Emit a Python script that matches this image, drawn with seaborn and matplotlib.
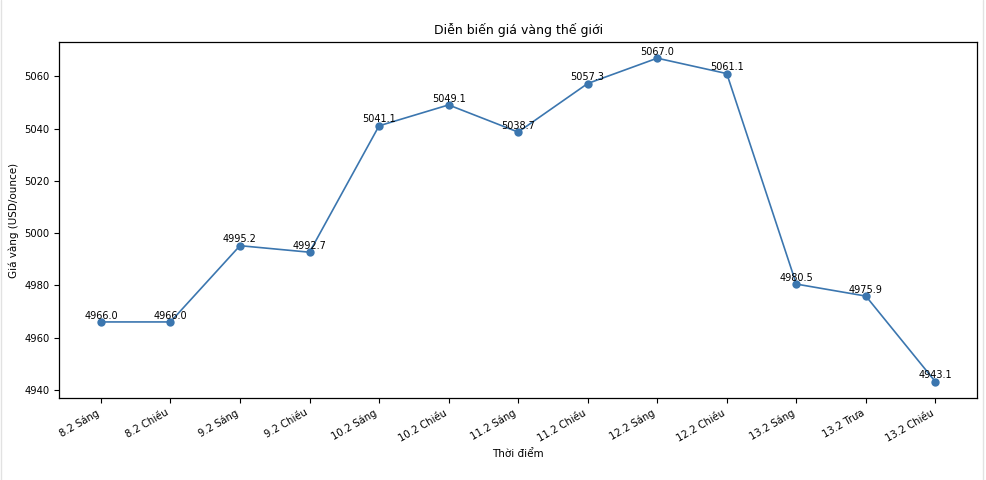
import matplotlib
matplotlib.use("Agg")
import matplotlib.pyplot as plt
import seaborn as sns
import pandas as pd
from matplotlib.lines import Line2D

times = ["8.2 Sáng", "8.2 Chiều", "9.2 Sáng", "9.2 Chiều", "10.2 Sáng", "10.2 Chiều",
         "11.2 Sáng", "11.2 Chiều", "12.2 Sáng", "12.2 Chiều", "13.2 Sáng", "13.2 Trưa", "13.2 Chiều"]
prices = [4966.0, 4966.0, 4995.2, 4992.7, 5041.1, 5049.1, 5038.7, 5057.3, 5067.0, 5061.1,
          4980.5, 4975.9, 4943.1]

sns.set_style("ticks")
plt.rcParams['font.family'] = ['DejaVu Sans']
plt.rcParams['text.color'] = 'black'
plt.rcParams['axes.labelcolor'] = 'black'
plt.rcParams['xtick.color'] = 'black'
plt.rcParams['ytick.color'] = 'black'
plt.rcParams['axes.edgecolor'] = 'black'

df = pd.DataFrame({"Thời điểm": times, "Giá": prices})
df["pos"] = range(len(times))

fig = plt.figure(figsize=(9.86, 4.8), dpi=100)
ax = fig.add_axes([0.06, 0.171, 0.931, 0.7415])
color = "#3b76af"
sns.lineplot(data=df, x="pos", y="Giá", marker="o", color=color, ax=ax,
             markersize=6, markeredgewidth=0, linewidth=1.2, sort=False)
for i, v in enumerate(prices):
    ax.annotate(f"{v:.1f}", (i, v), xytext=(0, 1), textcoords="offset points",
                ha="center", va="bottom", fontsize=7)
ax.set_xticks(range(len(times)))
ax.set_xticklabels(times, rotation=30, ha="right", fontsize=7.2)
ax.tick_params(axis="y", labelsize=7.2)
ax.tick_params(width=0.8, length=3.5)
ax.set_xlim(-0.6, len(times) - 1 + 0.6)
ax.set_title("Diễn biến giá vàng thế giới", fontsize=9)
ax.set_xlabel("Thời điểm", fontsize=7.5)
ax.set_ylabel("Giá vàng (USD/ounce)", fontsize=7.5)
for s in ax.spines.values():
    s.set_visible(True)
    s.set_linewidth(0.9)

fig.add_artist(Line2D([0.0015, 0.0015], [0, 1], transform=fig.transFigure, color="#e2e2e2", lw=1))
fig.add_artist(Line2D([0.997, 0.997], [0, 1], transform=fig.transFigure, color="#e2e2e2", lw=1))

fig.savefig("out.png", dpi=100)
